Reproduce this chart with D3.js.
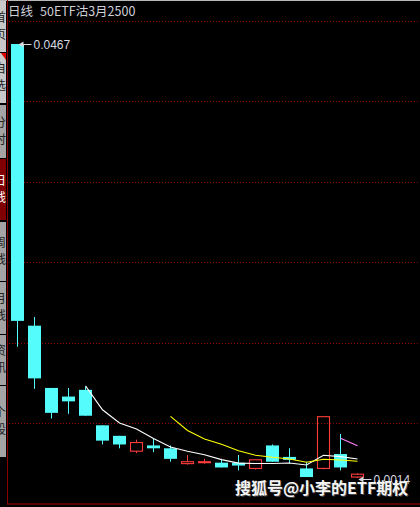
<!DOCTYPE html>
<html><head><meta charset="utf-8">
<script src="https://cdn.jsdelivr.net/npm/d3@7"></script>
<style>html,body{margin:0;padding:0;background:#000;overflow:hidden}</style>
</head><body>
<svg id="c" width="420" height="507" style="display:block"></svg>
<script>
// ---- data ----
const days = ["D1","D2","D3","D4","D5","D6","D7","D8","D9","D10","D11","D12","D13","D14","D15","D16","D17","D18","D19","D20","D21"];
const opens  = [0.0467,0.0173,0.0108,0.0099,0.0106,0.0069,0.0058,0.0042,0.0048,0.0045,0.0029,0.0030,0.0030,0.0030,0.0024,0.0048,0.0036,0.0024,0.0024,0.0039,0.0015];
const highs  = [0.0467,0.0182,0.0108,0.0108,0.0109,0.0069,0.0058,0.0054,0.0055,0.0048,0.0038,0.0034,0.0034,0.0038,0.0033,0.0049,0.0045,0.0031,0.0078,0.0060,0.0019];
const lows   = [0.0151,0.0107,0.0076,0.0081,0.0079,0.0049,0.0045,0.0040,0.0041,0.0031,0.0028,0.0029,0.0025,0.0022,0.0023,0.0031,0.0029,0.0015,0.0023,0.0022,0.0014];
const closes = [0.0178,0.0118,0.0082,0.0094,0.0079,0.0053,0.0049,0.0051,0.0045,0.0034,0.0031,0.0031,0.0025,0.0027,0.0033,0.0031,0.0033,0.0015,0.0078,0.0025,0.0018];
const ma5  = [null,null,null,null,0.01102,0.00852,0.00714,0.00651,0.00553,0.00464,0.00420,0.00382,0.00332,0.00295,0.00292,0.00292,0.00297,0.00276,0.00378,0.00363,0.00338];
const ma10 = [null,null,null,null,null,null,null,null,null,0.00783,0.00636,0.00548,0.00492,0.00424,0.00378,0.00356,0.00339,0.00304,0.00336,0.00328,0.00315];
const ma20 = [null,null,null,null,null,null,null,null,null,null,null,null,null,null,null,null,null,null,null,0.00555,0.00476];
const title = "日线";
const contract = "50ETF沽3月2500";
const watermark = "搜狐号@小李的ETF期权";
const tabLabels = ["首页","自选","分时","日线","周线","月线","资讯","个股"];

// ---- layout ----
const W = 420, H = 507;
const plotTop = 21, plotBottom = 503.5, plotLeft = 8;
const CYAN = "#54fcfc", RED = "#ff3c3c";
const svg = d3.select("#c");
svg.append("rect").attr("width", W).attr("height", H).attr("fill", "#000");

const x = d3.scalePoint().domain(days).range([17.5, 357.5]);
const y = d3.scaleLinear().domain([d3.min(lows), d3.max(highs)]).range([478, 44]);

// top line
svg.append("rect").attr("x", 0).attr("y", 0).attr("width", W).attr("height", 1).attr("fill", "#b8b8b8");

// sidebar tabs
const tabs = [[1,52,"#c8c8c8","#222"],[53,103,"#c8c8c8","#222"],[105,158,"#a4a4a4","#222"],[159,220,"#800000","#fff"],
              [222,281,"#a4a4a4","#222"],[282,334,"#a4a4a4","#222"],[335,385,"#a4a4a4","#222"],[386,457,"#a4a4a4","#222"]];
const side = svg.append("g");
side.append("clipPath").attr("id","sc").append("rect").attr("x",0).attr("y",0).attr("width",6).attr("height",H);
const sg = side.append("g").attr("clip-path","url(#sc)");
tabs.forEach((t,i) => {
  sg.append("rect").attr("x",0).attr("y",t[0]).attr("width",6).attr("height",t[1]-t[0]).attr("fill",t[2]);
  const chars = tabLabels[i].split("");
  const mid = (t[0]+t[1])/2;
  chars.forEach((ch,k) => {
    sg.append("text").attr("x",-6).attr("y", mid - 9 + k*17 + 4)
      .attr("font-family","Noto Sans CJK SC").attr("font-size",12).attr("fill",t[3]).text(ch);
  });
});
sg.append("path").attr("d","M1,53 L6,53 L6,60 Z").attr("fill","#e00000");

// frame
svg.append("line").attr("x1",7.5).attr("x2",7.5).attr("y1",0).attr("y2",plotBottom+1).attr("stroke","#8a0000");
svg.append("line").attr("x1",7).attr("x2",W).attr("y1",plotBottom+0.5).attr("y2",plotBottom+0.5).attr("stroke","#b00000");

// grid (equal divisions of the plot area)
const nDiv = 6;
d3.range(nDiv).forEach(i => {
  const gy = Math.round(plotTop + i*(plotBottom-plotTop)/nDiv) + 0.5;
  svg.append("line").attr("x1",plotLeft+1).attr("x2",W).attr("y1",gy).attr("y2",gy)
    .attr("stroke","#900000").attr("stroke-dasharray","1,2");
});

// title
svg.append("text").attr("x",8).attr("y",15.5).attr("font-family","Noto Sans CJK SC").attr("font-size",12.5)
  .attr("fill","#d0d0d8").text(title);
svg.append("text").attr("x",40).attr("y",15.5).attr("font-family","Noto Sans CJK SC").attr("font-size",12.5)
  .attr("fill","#d0d0d8").text(contract);

// candles
const cw = 13;
const g = svg.append("g");
days.forEach((d,i) => {
  const cx = x(d);
  const o = y(opens[i]), c = y(closes[i]), h = y(highs[i]), l = y(lows[i]);
  const up = closes[i] > opens[i];
  if (up) {
    const top = c, bot = o;
    g.append("line").attr("x1",cx).attr("x2",cx).attr("y1",h).attr("y2",top).attr("stroke",RED);
    g.append("line").attr("x1",cx).attr("x2",cx).attr("y1",bot).attr("y2",l).attr("stroke",RED);
    g.append("rect").attr("x",cx-6).attr("y",top).attr("width",cw-1).attr("height",Math.max(1,bot-top))
      .attr("fill","none").attr("stroke",RED).attr("stroke-width",1.1);
  } else {
    g.append("line").attr("x1",cx).attr("x2",cx).attr("y1",h).attr("y2",l).attr("stroke",CYAN);
    g.append("rect").attr("x",cx-cw/2).attr("y",o).attr("width",cw).attr("height",Math.max(1.5,c-o)).attr("fill",CYAN);
  }
});

// moving averages
const lineGen = d3.line().defined(v => v[1] != null).x(v => x(v[0])).y(v => y(v[1]));
[[ma5,"#ffffff"],[ma10,"#ffff00"],[ma20,"#ff80ff"]].forEach(([arr,col]) => {
  g.append("path").attr("d", lineGen(days.map((d,i)=>[d,arr[i]]))).attr("fill","none")
    .attr("stroke",col).attr("stroke-width",1.1);
});

// max / min markers
const fmt = d3.format(".4f");
function marker(i, val, yy) {
  const cx = x(days[i]) + 1, ay = Math.round(yy) + 0.5;
  svg.append("line").attr("x1",cx+1).attr("x2",cx+13).attr("y1",ay).attr("y2",ay).attr("stroke","#d8d8e0");
  svg.append("path").attr("d",`M${cx},${ay} L${cx+5},${ay-3} L${cx+5},${ay+3} Z`).attr("fill","#d8d8e0");
  svg.append("text").attr("x",cx+15).attr("y",ay+4.5).attr("font-family","Liberation Sans, Arial").attr("font-size",12)
    .attr("fill","#d8d8e0").text(fmt(val));
}
const iMax = highs.indexOf(d3.max(highs)), iMin = lows.indexOf(d3.min(lows));
marker(iMax, highs[iMax], y(highs[iMax]));
marker(iMin, lows[iMin], y(lows[iMin]) + 1);

// watermark
svg.append("text").attr("x",236).attr("y",495).attr("font-family","Noto Sans CJK SC").attr("font-size",16)
  .attr("font-weight","bold").attr("fill","#444").text(watermark);
svg.append("text").attr("x",235).attr("y",494).attr("font-family","Noto Sans CJK SC").attr("font-size",16)
  .attr("font-weight","bold").attr("fill","#f4f4f4").text(watermark);
</script>
</body></html>
